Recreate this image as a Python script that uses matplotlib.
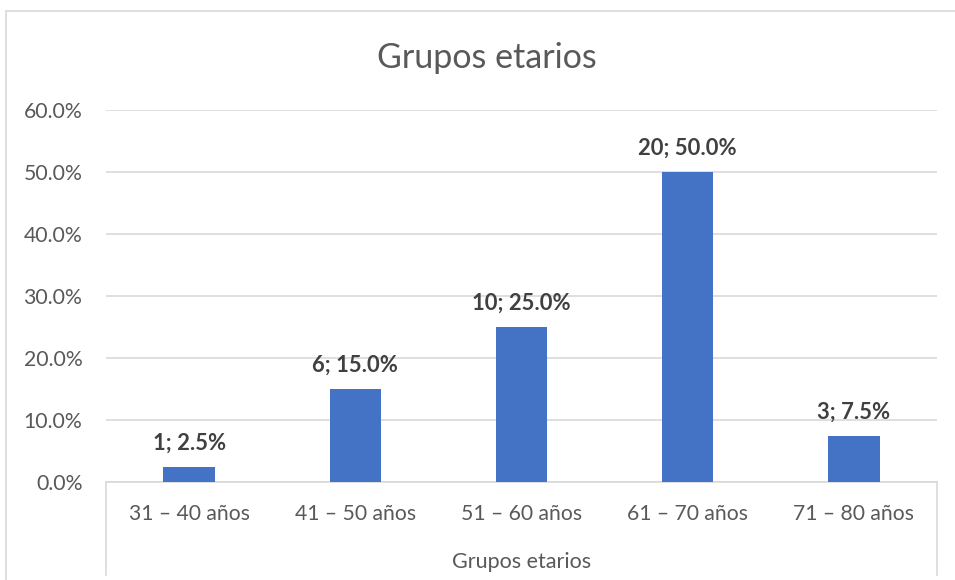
import matplotlib.pyplot as plt
from matplotlib.ticker import PercentFormatter
from matplotlib.patches import Rectangle

# -----------------------------
# Data
# -----------------------------
categories = ["31 – 40 años", "41 – 50 años", "51 – 60 años", "61 – 70 años", "71 – 80 años"]
counts = [1, 6, 10, 20, 3]
percents = [2.5, 15.0, 25.0, 50.0, 7.5]

title = "Grupos etarios"
axis_title = "Grupos etarios"

text_color = "#595959"
grid_color = "#D9D9D9"
bar_color = "#4472C4"

plt.rcParams['font.family'] = ['Lato', 'DejaVu Sans']

W, H = 955, 580
fig = plt.figure(figsize=(W / 100, H / 100), dpi=100)

# chart outer border
fig.patches.append(Rectangle((6 / W, -0.1), 1.2, 1 - 11 / H + 0.1, transform=fig.transFigure,
                             fill=False, edgecolor=grid_color, linewidth=1.2))

ax = fig.add_axes([106 / W, 1 - 482 / H, 831 / W, 372 / H])

x = range(len(categories))
bars = ax.bar(x, percents, width=0.31, color=bar_color, zorder=3)

ax.set_xlim(-0.5, len(categories) - 0.5)
ax.set_ylim(0, 60)
ax.set_yticks(range(0, 61, 10))
ax.yaxis.set_major_formatter(PercentFormatter(decimals=1))
ax.grid(axis='y', color=grid_color, linewidth=1.2, zorder=0)

for s in ["top", "right", "left"]:
    ax.spines[s].set_visible(False)
ax.spines["bottom"].set_color(grid_color)
ax.spines["bottom"].set_linewidth(1.2)

ax.set_xticks(list(x))
ax.set_xticklabels(categories)
ax.tick_params(axis='x', length=0, pad=16, labelsize=15.2, labelcolor=text_color)
ax.tick_params(axis='y', length=0, pad=17, labelsize=15.3, labelcolor=text_color)

# multi-level axis separators
drop = (575 - 482) / 372
for xe in (0, 1):
    ax.plot([xe, xe], [0, -drop], transform=ax.transAxes, color=grid_color,
            linewidth=1.2, clip_on=False)

ax.set_xlabel(axis_title, fontsize=15.5, color=text_color, labelpad=20)

# data labels
for b, n, p in zip(bars, counts, percents):
    ax.annotate(f"{n}; {p:.1f}%", (b.get_x() + b.get_width() / 2, b.get_height()),
                xytext=(0, 17), textcoords="offset points", ha="center", va="center",
                fontsize=15.8, fontweight="bold", color="#404040")

fig.text(486.5 / W, 1 - 58 / H, title, ha="center", va="center", fontsize=24.5, color=text_color)

fig.savefig("out.png", dpi=100)
